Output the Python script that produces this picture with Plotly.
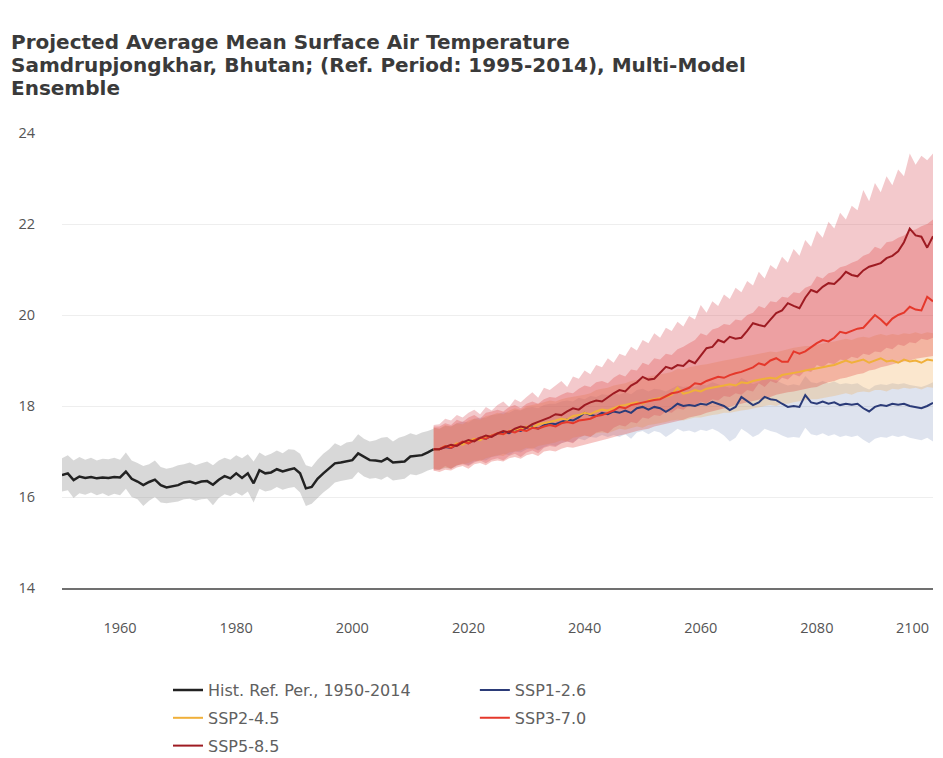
import plotly.graph_objects as go

# ---------------------------------------------------------------- data
hist_years = list(range(1950, 2015))
proj_years = list(range(2014, 2101))
x_ticks = [1960, 1980, 2000, 2020, 2040, 2060, 2080]
x_last_tick = 2100          # drawn flush with the right edge of the plot
y_ticks = [14, 16, 18, 20, 22, 24]

hist_mean = [
    16.48, 16.52, 16.37, 16.45, 16.42, 16.44, 16.41, 16.43, 16.42, 16.44,
    16.43, 16.56, 16.40, 16.34, 16.26, 16.33, 16.38, 16.26, 16.21, 16.23,
    16.26, 16.32, 16.34, 16.30, 16.34, 16.35, 16.27, 16.38, 16.46, 16.41,
    16.52, 16.42, 16.52, 16.30, 16.59, 16.52, 16.54, 16.61, 16.56, 16.60,
    16.63, 16.52, 16.19, 16.22, 16.40, 16.52, 16.62, 16.74, 16.76, 16.78,
    16.81, 16.96, 16.88, 16.81, 16.80, 16.78, 16.85, 16.76, 16.77, 16.78,
    16.89, 16.90, 16.92, 16.98, 17.05]
hist_upper = [
    16.85, 16.92, 16.80, 16.88, 16.82, 16.86, 16.80, 16.84, 16.83, 16.86,
    16.82, 16.98, 16.80, 16.75, 16.68, 16.72, 16.80, 16.66, 16.62, 16.65,
    16.70, 16.72, 16.76, 16.70, 16.74, 16.78, 16.70, 16.80, 16.86, 16.82,
    16.92, 16.85, 16.94, 16.78, 16.98, 16.90, 16.95, 17.02, 16.96, 17.05,
    17.04, 16.95, 16.70, 16.66, 16.82, 16.95, 17.05, 17.18, 17.12, 17.20,
    17.22, 17.38, 17.28, 17.22, 17.25, 17.30, 17.32, 17.22, 17.30, 17.34,
    17.40, 17.36, 17.42, 17.45, 17.50]
hist_lower = [
    16.12, 16.15, 15.98, 16.08, 16.05, 16.10, 16.04, 16.08, 16.02, 16.07,
    16.04, 16.18, 16.00, 15.95, 15.80, 15.92, 16.00, 15.88, 15.86, 15.88,
    15.90, 15.95, 15.96, 15.92, 15.95, 15.96, 15.82, 15.98, 16.06, 16.02,
    16.10, 16.03, 16.12, 15.88, 16.18, 16.12, 16.15, 16.22, 16.16, 16.20,
    16.22, 16.10, 15.80, 15.85, 15.98, 16.10, 16.20, 16.32, 16.35, 16.38,
    16.40, 16.55, 16.45, 16.40, 16.42, 16.38, 16.45, 16.36, 16.38, 16.40,
    16.50, 16.48, 16.52, 16.58, 16.62]

# projections, 2014 (shared start) to 2100
ssp126_mean = [17.05,
    17.05, 17.10, 17.08, 17.15, 17.20, 17.18, 17.25, 17.30, 17.28, 17.35,
    17.38, 17.42, 17.40, 17.48, 17.45, 17.52, 17.55, 17.50, 17.58, 17.62,
    17.60, 17.65, 17.70, 17.68, 17.75, 17.85, 17.80, 17.78, 17.85, 17.82,
    17.88, 17.85, 17.90, 17.85, 17.95, 17.98, 17.92, 17.98, 17.95, 17.87,
    17.95, 18.05, 18.00, 18.02, 18.00, 18.05, 18.03, 18.09, 18.05, 18.00,
    17.91, 17.98, 18.20, 18.10, 18.02, 18.08, 18.20, 18.15, 18.13, 18.05,
    17.98, 18.00, 17.98, 18.24, 18.08, 18.05, 18.10, 18.05, 18.08, 18.02,
    18.05, 18.03, 18.05, 17.95, 17.88, 17.98, 18.02, 18.00, 18.05, 18.03,
    18.05, 18.00, 17.98, 17.95, 18.00, 18.07]
ssp126_upper = [17.52,
    17.50, 17.56, 17.55, 17.62, 17.66, 17.64, 17.72, 17.75, 17.74, 17.80,
    17.82, 17.86, 17.85, 17.92, 17.90, 17.96, 17.98, 17.95, 18.02, 18.05,
    18.05, 18.10, 18.12, 18.10, 18.18, 18.15, 18.22, 18.20, 18.26, 18.24,
    18.28, 18.25, 18.30, 18.26, 18.35, 18.38, 18.32, 18.38, 18.36, 18.32,
    18.38, 18.45, 18.42, 18.44, 18.42, 18.48, 18.45, 18.52, 18.48, 18.44,
    18.40, 18.45, 18.62, 18.55, 18.48, 18.52, 18.62, 18.58, 18.56, 18.50,
    18.45, 18.48, 18.45, 18.66, 18.52, 18.50, 18.55, 18.50, 18.54, 18.48,
    18.50, 18.48, 18.50, 18.42, 18.36, 18.45, 18.48, 18.46, 18.50, 18.48,
    18.50, 18.46, 18.44, 18.42, 18.46, 18.52]
ssp126_lower = [16.62,
    16.60, 16.64, 16.62, 16.68, 16.74, 16.70, 16.78, 16.82, 16.80, 16.88,
    16.90, 16.95, 16.92, 17.00, 16.98, 17.05, 17.08, 17.02, 17.10, 17.15,
    17.12, 17.18, 17.22, 17.20, 17.28, 17.25, 17.32, 17.30, 17.36, 17.32,
    17.36, 17.32, 17.38, 17.28, 17.42, 17.45, 17.38, 17.45, 17.42, 17.32,
    17.40, 17.50, 17.44, 17.46, 17.42, 17.48, 17.45, 17.50, 17.44, 17.35,
    17.22, 17.30, 17.50, 17.42, 17.32, 17.38, 17.50, 17.45, 17.42, 17.35,
    17.30, 17.32, 17.30, 17.52, 17.38, 17.35, 17.40, 17.34, 17.38, 17.32,
    17.35, 17.32, 17.35, 17.26, 17.18, 17.28, 17.32, 17.30, 17.35, 17.32,
    17.35, 17.30, 17.28, 17.25, 17.30, 17.22]

ssp245_mean = [17.05,
    17.05, 17.12, 17.10, 17.18, 17.15, 17.22, 17.28, 17.25, 17.32, 17.35,
    17.40, 17.38, 17.45, 17.48, 17.50, 17.55, 17.52, 17.60, 17.62, 17.65,
    17.68, 17.72, 17.70, 17.78, 17.80, 17.85, 17.82, 17.88, 17.92, 17.90,
    17.95, 18.00, 18.02, 18.05, 18.08, 18.05, 18.12, 18.15, 18.18, 18.20,
    18.25, 18.40, 18.27, 18.30, 18.35, 18.32, 18.38, 18.40, 18.42, 18.45,
    18.48, 18.45, 18.52, 18.50, 18.55, 18.58, 18.60, 18.62, 18.60, 18.68,
    18.70, 18.72, 18.75, 18.78, 18.80, 18.82, 18.85, 18.88, 18.90, 18.95,
    19.00, 18.95, 18.98, 19.02, 18.95, 19.00, 19.05, 18.98, 19.00, 18.95,
    19.02, 18.98, 19.00, 18.95, 19.02, 19.00]
ssp245_upper = [17.52,
    17.50, 17.58, 17.55, 17.62, 17.60, 17.68, 17.72, 17.70, 17.78, 17.80,
    17.85, 17.82, 17.90, 17.95, 17.92, 18.00, 18.02, 18.05, 18.08, 18.12,
    18.10, 18.15, 18.18, 18.20, 18.22, 18.25, 18.28, 18.35, 18.38, 18.40,
    18.45, 18.48, 18.50, 18.55, 18.58, 18.60, 18.65, 18.68, 18.70, 18.72,
    18.75, 18.82, 18.80, 18.85, 18.88, 18.90, 18.92, 18.95, 18.98, 19.00,
    19.02, 19.05, 19.08, 19.10, 19.12, 19.15, 19.18, 19.20, 19.18, 19.22,
    19.25, 19.28, 19.30, 19.32, 19.32, 19.35, 19.38, 19.40, 19.42, 19.45,
    19.48, 19.45, 19.50, 19.52, 19.50, 19.55, 19.58, 19.55, 19.58, 19.56,
    19.60, 19.58, 19.62, 19.58, 19.62, 19.60]
ssp245_lower = [16.62,
    16.60, 16.65, 16.62, 16.70, 16.72, 16.75, 16.80, 16.78, 16.85, 16.88,
    16.92, 16.90, 16.98, 17.00, 17.02, 17.08, 17.05, 17.12, 17.15, 17.18,
    17.20, 17.25, 17.22, 17.30, 17.32, 17.35, 17.33, 17.40, 17.42, 17.40,
    17.45, 17.50, 17.48, 17.52, 17.55, 17.52, 17.58, 17.60, 17.62, 17.65,
    17.68, 17.70, 17.68, 17.72, 17.75, 17.75, 17.78, 17.80, 17.82, 17.85,
    17.85, 17.88, 17.90, 17.92, 17.95, 17.98, 18.00, 18.02, 18.00, 18.05,
    18.05, 18.08, 18.10, 18.12, 18.15, 18.15, 18.18, 18.20, 18.22, 18.25,
    18.28, 18.25, 18.30, 18.32, 18.30, 18.35, 18.35, 18.32, 18.38, 18.36,
    18.40, 18.38, 18.40, 18.36, 18.42, 18.40]

ssp370_mean = [17.05,
    17.05, 17.12, 17.08, 17.15, 17.22, 17.18, 17.25, 17.30, 17.28, 17.35,
    17.40, 17.38, 17.45, 17.42, 17.48, 17.45, 17.52, 17.50, 17.55, 17.58,
    17.55, 17.62, 17.65, 17.62, 17.68, 17.70, 17.72, 17.78, 17.80, 17.85,
    17.90, 17.98, 17.95, 18.02, 18.05, 18.08, 18.10, 18.13, 18.15, 18.22,
    18.28, 18.30, 18.35, 18.40, 18.50, 18.48, 18.55, 18.60, 18.64, 18.62,
    18.68, 18.72, 18.75, 18.80, 18.85, 18.94, 18.90, 19.00, 19.05, 18.97,
    18.97, 19.20, 19.15, 19.20, 19.30, 19.38, 19.45, 19.42, 19.50, 19.63,
    19.60, 19.65, 19.70, 19.72, 19.85, 20.00, 19.90, 19.78, 19.92, 20.00,
    20.05, 20.18, 20.12, 20.10, 20.40, 20.30]
ssp370_upper = [17.55,
    17.55, 17.62, 17.58, 17.70, 17.65, 17.75, 17.80, 17.72, 17.85, 17.88,
    17.92, 17.88, 17.98, 18.02, 17.95, 18.05, 18.10, 18.05, 18.15, 18.20,
    18.18, 18.25, 18.30, 18.28, 18.38, 18.45, 18.42, 18.52, 18.55, 18.50,
    18.62, 18.70, 18.65, 18.80, 18.78, 18.95, 18.90, 19.05, 19.02, 19.15,
    19.12, 19.25, 19.30, 19.38, 19.45, 19.60, 19.55, 19.68, 19.72, 19.80,
    19.78, 19.90, 19.88, 20.00, 20.05, 20.20, 20.15, 20.30, 20.28, 20.40,
    20.38, 20.50, 20.48, 20.60, 20.65, 20.85, 20.80, 20.92, 20.95, 21.05,
    21.08, 21.15, 21.20, 21.30, 21.35, 21.50, 21.45, 21.60, 21.62, 21.70,
    21.75, 21.85, 21.88, 21.95, 22.00, 22.10]
ssp370_lower = [16.58,
    16.55, 16.60, 16.58, 16.65, 16.68, 16.62, 16.72, 16.75, 16.70, 16.78,
    16.80, 16.78, 16.85, 16.88, 16.84, 16.92, 16.95, 16.90, 17.00, 17.02,
    17.00, 17.06, 17.10, 17.08, 17.12, 17.15, 17.18, 17.22, 17.25, 17.28,
    17.32, 17.35, 17.38, 17.42, 17.45, 17.48, 17.50, 17.55, 17.58, 17.62,
    17.65, 17.68, 17.70, 17.75, 17.78, 17.80, 17.85, 17.88, 17.92, 17.95,
    17.98, 18.02, 18.05, 18.08, 18.12, 18.15, 18.18, 18.20, 18.25, 18.28,
    18.30, 18.32, 18.35, 18.38, 18.40, 18.42, 18.48, 18.52, 18.55, 18.60,
    18.62, 18.66, 18.70, 18.72, 18.78, 18.80, 18.85, 18.88, 18.92, 18.95,
    18.98, 19.00, 19.04, 19.06, 19.08, 19.10]

ssp585_mean = [17.05,
    17.05, 17.10, 17.15, 17.12, 17.20, 17.25, 17.22, 17.30, 17.35, 17.32,
    17.40, 17.45, 17.42, 17.50, 17.55, 17.52, 17.60, 17.65, 17.70, 17.75,
    17.82, 17.80, 17.88, 17.95, 17.92, 18.02, 18.08, 18.12, 18.10, 18.20,
    18.28, 18.35, 18.32, 18.45, 18.52, 18.64, 18.58, 18.60, 18.72, 18.86,
    18.82, 18.90, 18.88, 19.00, 18.94, 19.10, 19.27, 19.30, 19.45, 19.40,
    19.52, 19.48, 19.50, 19.65, 19.82, 19.78, 19.75, 19.90, 20.04, 20.10,
    20.26, 20.20, 20.15, 20.38, 20.55, 20.50, 20.62, 20.70, 20.68, 20.80,
    20.95, 20.88, 20.85, 20.98, 21.06, 21.10, 21.14, 21.25, 21.30, 21.40,
    21.60, 21.90, 21.75, 21.72, 21.48, 21.73]
ssp585_upper = [17.58,
    17.60, 17.72, 17.68, 17.80, 17.75, 17.85, 17.92, 17.82, 17.98, 17.90,
    18.02, 18.10, 17.98, 18.15, 18.08, 18.20, 18.30, 18.18, 18.40, 18.35,
    18.45, 18.55, 18.42, 18.65, 18.60, 18.78, 18.70, 18.90, 18.85, 19.05,
    18.95, 19.15, 19.10, 19.30, 19.22, 19.45, 19.38, 19.60, 19.50, 19.72,
    19.65, 19.85, 19.75, 19.98, 19.90, 20.22, 20.05, 20.30, 20.20, 20.45,
    20.35, 20.60, 20.50, 20.75, 20.65, 20.95, 20.80, 21.10, 21.00, 21.28,
    21.15, 21.45, 21.30, 21.65, 21.50, 21.85, 21.70, 22.05, 21.90, 22.25,
    22.10, 22.40, 22.30, 22.75, 22.50, 22.90, 22.70, 23.05, 22.85, 23.20,
    23.05, 23.55, 23.30, 23.50, 23.40, 23.55]
ssp585_lower = [16.58,
    16.60, 16.68, 16.62, 16.70, 16.72, 16.68, 16.76, 16.80, 16.74, 16.82,
    16.85, 16.80, 16.90, 16.95, 16.88, 16.98, 17.02, 16.96, 17.08, 17.12,
    17.10, 17.18, 17.22, 17.18, 17.30, 17.35, 17.32, 17.42, 17.45, 17.40,
    17.52, 17.58, 17.55, 17.65, 17.62, 17.75, 17.72, 17.80, 17.78, 17.88,
    17.85, 17.95, 17.92, 18.02, 18.00, 18.10, 18.06, 18.15, 18.12, 18.22,
    18.20, 18.28, 18.25, 18.35, 18.32, 18.50, 18.42, 18.55, 18.50, 18.62,
    18.58, 18.70, 18.65, 18.78, 18.75, 18.90, 18.85, 18.95, 18.92, 19.02,
    19.00, 19.08, 19.05, 19.15, 19.12, 19.20, 19.18, 19.28, 19.25, 19.35,
    19.32, 19.40, 19.38, 19.48, 19.45, 19.50]

for series in (hist_mean, hist_upper, hist_lower):
    assert len(series) == len(hist_years)
for series in (ssp126_mean, ssp126_upper, ssp126_lower, ssp245_mean, ssp245_upper,
               ssp245_lower, ssp370_mean, ssp370_upper, ssp370_lower,
               ssp585_mean, ssp585_upper, ssp585_lower):
    assert len(series) == len(proj_years)

# ---------------------------------------------------------------- figure
fig = go.Figure()

# (name, years, mean, lower, upper, line colour, band colour, line width, legend)
scenarios = [
    ("Hist. Ref. Per., 1950-2014", hist_years, hist_mean, hist_lower, hist_upper,
     "#222222", "rgba(140,140,140,0.34)", 2.5, "legend"),
    ("SSP1-2.6", proj_years, ssp126_mean, ssp126_lower, ssp126_upper,
     "#2b3b78", "rgba(122,145,188,0.25)", 2, "legend2"),
    ("SSP2-4.5", proj_years, ssp245_mean, ssp245_lower, ssp245_upper,
     "#f0b03a", "rgba(240,170,80,0.28)", 2, "legend"),
    ("SSP3-7.0", proj_years, ssp370_mean, ssp370_lower, ssp370_upper,
     "#e5382b", "rgba(226,64,57,0.30)", 2, "legend2"),
    ("SSP5-8.5", proj_years, ssp585_mean, ssp585_lower, ssp585_upper,
     "#9e1b22", "rgba(215,75,85,0.30)", 2, "legend"),
]

# shaded model ranges first
for name, xs, mean, lo, hi, lc, bc, lw, lg in scenarios:
    fig.add_trace(go.Scatter(x=xs, y=lo, mode="lines", line=dict(width=0),
                             showlegend=False, hoverinfo="skip",
                             legendgroup=name, legend=lg))
    fig.add_trace(go.Scatter(x=xs, y=hi, mode="lines", line=dict(width=0),
                             fill="tonexty", fillcolor=bc, showlegend=False,
                             hoverinfo="skip", legendgroup=name, legend=lg))

# ensemble medians on top
for name, xs, mean, lo, hi, lc, bc, lw, lg in scenarios:
    fig.add_trace(go.Scatter(x=xs, y=mean, mode="lines", name=name,
                             line=dict(color=lc, width=lw),
                             legendgroup=name, legend=lg))

# three-line heading
title_lines = [
    "Projected Average Mean Surface Air Temperature",
    "Samdrupjongkhar, Bhutan; (Ref. Period: 1995-2014), Multi-Model",
    "Ensemble",
]
title_y = [1.2, 1.1495, 1.0995]
for txt, yy in zip(title_lines, title_y):
    fig.add_annotation(text=txt, xref="paper", yref="paper", x=-0.0609, y=yy,
                       xanchor="left", yanchor="middle", showarrow=False,
                       font=dict(family="DejaVu Sans", size=20,
                                 color="#3a3a3a", weight="bold"))

tick_font = dict(family="Open Sans", size=14.5, color="#555555")

# last year label sits inside the right edge so it is not clipped
fig.add_annotation(text=str(x_last_tick), xref="x", yref="paper",
                   x=x_last_tick, y=-0.086, xanchor="right", yanchor="middle",
                   xshift=-2, showarrow=False, font=tick_font)

legend_common = dict(orientation="v", xanchor="left", yanchor="top",
                     yref="container", traceorder="grouped", tracegroupgap=4,
                     font=dict(family="DejaVu Sans", size=16, color="#606060"),
                     bgcolor="rgba(0,0,0,0)")

fig.update_layout(
    width=943, height=758,
    margin=dict(l=62, r=10, t=133, b=170, autoexpand=False),
    paper_bgcolor="white", plot_bgcolor="white",
    showlegend=True,
    legend=dict(x=0.1217, y=0.112, **legend_common),
    legend2=dict(x=0.474, y=0.112, **legend_common),
    xaxis=dict(range=[1950, 2100], tickvals=x_ticks,
               showgrid=False, zeroline=False, showline=True,
               linecolor="#707070", linewidth=2, ticks="",
               ticklabelstandoff=26, tickfont=tick_font),
    yaxis=dict(range=[14, 24], tickvals=y_ticks, showgrid=True,
               gridcolor="#eeeeee", gridwidth=1, zeroline=False,
               showline=False, ticks="", ticklabelstandoff=26,
               tickfont=tick_font),
)

fig.write_html("out.html")
